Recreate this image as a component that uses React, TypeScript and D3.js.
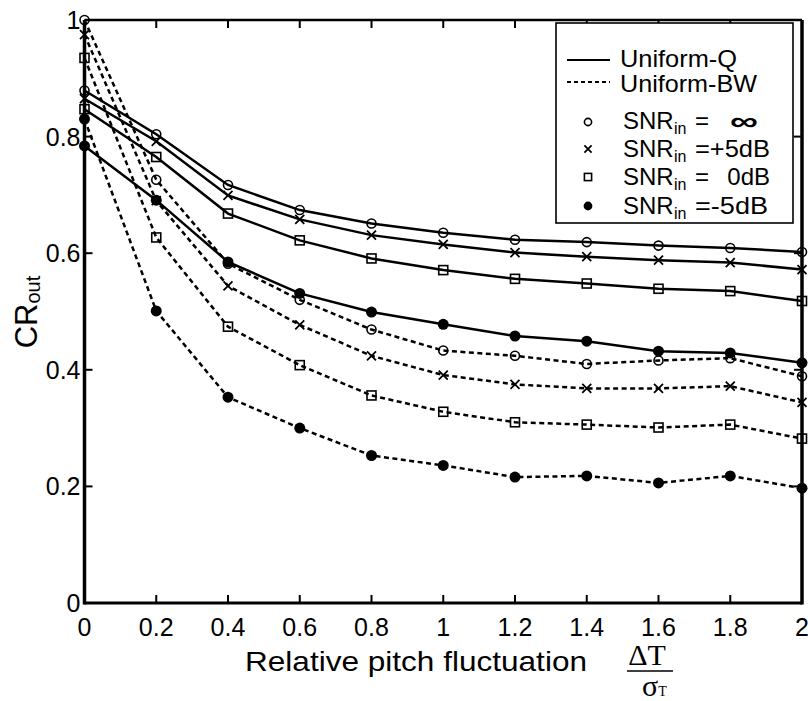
import React from "react";
import * as d3 from "d3";

const xValues = [0, 0.2, 0.4, 0.6, 0.8, 1.0, 1.2, 1.4, 1.6, 1.8, 2.0];
const xTicks = [0, 0.2, 0.4, 0.6, 0.8, 1, 1.2, 1.4, 1.6, 1.8, 2];
const yTicks = [0, 0.2, 0.4, 0.6, 0.8, 1];

const qInf = [0.879, 0.804, 0.717, 0.674, 0.651, 0.635, 0.623, 0.619, 0.613, 0.609, 0.602];
const q5 = [0.865, 0.792, 0.699, 0.658, 0.631, 0.615, 0.601, 0.594, 0.588, 0.584, 0.572];
const q0 = [0.847, 0.765, 0.668, 0.622, 0.591, 0.571, 0.556, 0.548, 0.539, 0.535, 0.518];
const qm5 = [0.784, 0.691, 0.585, 0.531, 0.499, 0.478, 0.458, 0.449, 0.432, 0.429, 0.412];
const bwInf = [1.0, 0.726, 0.582, 0.52, 0.469, 0.433, 0.424, 0.41, 0.416, 0.42, 0.389];
const bw5 = [0.975, 0.69, 0.544, 0.477, 0.424, 0.391, 0.375, 0.368, 0.368, 0.372, 0.344];
const bw0 = [0.935, 0.627, 0.474, 0.408, 0.356, 0.328, 0.31, 0.306, 0.301, 0.306, 0.282];
const bwm5 = [0.83, 0.501, 0.353, 0.3, 0.253, 0.236, 0.216, 0.218, 0.206, 0.218, 0.197];

const legendLines = ["Uniform-Q", "Uniform-BW"];
const legendSnr = ["∞", "=+5dB", "0dB", "=-5dB"];

type Marker = "circle" | "cross" | "square" | "dot";
const series: { values: number[]; marker: Marker; dashed: boolean }[] = [
  { values: qInf, marker: "circle", dashed: false },
  { values: q5, marker: "cross", dashed: false },
  { values: q0, marker: "square", dashed: false },
  { values: qm5, marker: "dot", dashed: false },
  { values: bwInf, marker: "circle", dashed: true },
  { values: bw5, marker: "cross", dashed: true },
  { values: bw0, marker: "square", dashed: true },
  { values: bwm5, marker: "dot", dashed: true },
];
const legendMarkers: Marker[] = ["circle", "cross", "square", "dot"];

const FONT = "'Liberation Sans', Arial, Helvetica, sans-serif";
const SERIF = "'Liberation Serif', 'Times New Roman', serif";

function MarkerShape({ type, cx, cy, k = 1 }: { type: Marker; cx: number; cy: number; k?: number }) {
  if (type === "circle")
    return <circle cx={cx} cy={cy} r={4.5 * k} fill="none" stroke="black" strokeWidth={1.6} />;
  if (type === "dot") return <circle cx={cx} cy={cy} r={5.5 * k} fill="black" />;
  if (type === "square")
    return (
      <rect
        x={cx - 4.5 * k}
        y={cy - 4.5 * k}
        width={9 * k}
        height={9 * k}
        fill="none"
        stroke="black"
        strokeWidth={1.6}
      />
    );
  const s = 4.5 * k;
  return (
    <path
      d={`M${cx - s},${cy - s}L${cx + s},${cy + s}M${cx - s},${cy + s}L${cx + s},${cy - s}`}
      stroke="black"
      strokeWidth={1.8}
    />
  );
}

export default function App() {
  const W = 808;
  const H = 701;
  const left = 84.5;
  const right = 802;
  const top = 20;
  const bottom = 603;
  const x = d3.scaleLinear().domain([0, 2]).range([left, right]);
  const y = d3.scaleLinear().domain([0, 1]).range([bottom, top]);
  const line = d3
    .line<number>()
    .x((_, i) => x(xValues[i]))
    .y((d) => y(d));

  const tickLen = 8;
  const legendRowY = [122, 149, 177, 206];
  const legendBase = [128.5, 156.5, 185, 213.5];

  return (
    <svg width={W} height={H} style={{ position: "absolute", left: 0, top: 0, background: "white" }}>
      <rect x={0} y={0} width={W} height={H} fill="white" />
      {/* data lines */}
      {series.map((s, i) => (
        <path
          key={"l" + i}
          d={line(s.values) || ""}
          fill="none"
          stroke="black"
          strokeWidth={2.5}
          strokeDasharray={s.dashed ? "5,3.5" : undefined}
        />
      ))}
      {/* axes box */}
      <line x1={left} y1={bottom} x2={right} y2={bottom} stroke="black" strokeWidth={3} />
      <line x1={left} y1={top} x2={left} y2={bottom + 1.5} stroke="black" strokeWidth={3.5} />
      <line x1={left} y1={top} x2={right} y2={top} stroke="black" strokeWidth={2.5} />
      <line x1={right} y1={top} x2={right} y2={bottom + 1.5} stroke="black" strokeWidth={3.5} />
      {/* ticks */}
      {xTicks.map((t) => (
        <g key={"xt" + t}>
          <line x1={x(t)} x2={x(t)} y1={bottom} y2={bottom - tickLen} stroke="black" strokeWidth={2} />
          <line x1={x(t)} x2={x(t)} y1={top} y2={top + tickLen} stroke="black" strokeWidth={2} />
          <text x={x(t)} y={636} textAnchor="middle" fontFamily={FONT} fontSize={25}>
            {String(t)}
          </text>
        </g>
      ))}
      {yTicks.map((t) => (
        <g key={"yt" + t}>
          <line x1={left} x2={left + tickLen} y1={y(t)} y2={y(t)} stroke="black" strokeWidth={2} />
          <line x1={right} x2={right - tickLen} y1={y(t)} y2={y(t)} stroke="black" strokeWidth={2} />
          <text x={left - 4} y={y(t) + 9} textAnchor="end" fontFamily={FONT} fontSize={25}>
            {String(t)}
          </text>
        </g>
      ))}
      {/* markers */}
      {series.map((s, i) => (
        <g key={"m" + i}>
          {s.values.map((v, j) => (
            <MarkerShape key={j} type={s.marker} cx={x(xValues[j])} cy={y(v)} />
          ))}
        </g>
      ))}
      {/* y label */}
      <text transform="translate(37,312) rotate(-90)" textAnchor="middle" fontFamily={FONT} fontSize={31}>
        CR<tspan fontSize={20} dy={3}>out</tspan>
      </text>
      {/* x label */}
      <text x={245} y={671} fontFamily={FONT} fontSize={28} textLength={342} lengthAdjust="spacingAndGlyphs">
        Relative pitch fluctuation
      </text>
      <text x={647} y={665} textAnchor="middle" fontFamily={SERIF} fontSize={30}>
        ΔT
      </text>
      <line x1={627} x2={673} y1={671} y2={671} stroke="black" strokeWidth={1.6} />
      <text x={642} y={696} fontFamily={SERIF} fontSize={30}>
        σ<tspan fontSize={14}>T</tspan>
      </text>
      {/* legend */}
      <rect x={556} y={23} width={237} height={200} fill="white" stroke="black" strokeWidth={1.6} />
      <line x1={567} x2={610} y1={60} y2={60} stroke="black" strokeWidth={2} />
      <text x={620} y={67} fontFamily={FONT} fontSize={24} textLength={117} lengthAdjust="spacingAndGlyphs">
        {legendLines[0]}
      </text>
      <line x1={567} x2={610} y1={82} y2={82} stroke="black" strokeWidth={2} strokeDasharray="4,3" />
      <text x={620} y={92} fontFamily={FONT} fontSize={24} textLength={137} lengthAdjust="spacingAndGlyphs">
        {legendLines[1]}
      </text>
      {legendMarkers.map((m, i) => (
        <g key={"lg" + i}>
          <MarkerShape type={m} cx={588} cy={legendRowY[i]} k={0.8} />
          <text x={623} y={legendBase[i]} fontFamily={FONT} fontSize={24}>
            SNR
          </text>
          <text x={674} y={legendBase[i] + 5} fontFamily={FONT} fontSize={16}>
            in
          </text>
          {i === 0 || i === 2 ? (
            <text x={695} y={legendBase[i]} fontFamily={FONT} fontSize={24}>
              =
            </text>
          ) : null}
          {i === 0 ? (
            <text
              x={744}
              y={legendBase[i] + 1}
              textAnchor="middle"
              fontFamily={FONT}
              fontSize={26}
              fontWeight="bold"
              textLength={28}
              lengthAdjust="spacingAndGlyphs"
            >
              {legendSnr[i]}
            </text>
          ) : i === 2 ? (
            <text x={770} y={legendBase[i]} textAnchor="end" fontFamily={FONT} fontSize={24}>
              {legendSnr[i]}
            </text>
          ) : (
            <text
              x={695}
              y={legendBase[i]}
              fontFamily={FONT}
              fontSize={24}
              textLength={i === 3 ? 73 : 75}
              lengthAdjust="spacingAndGlyphs"
            >
              {legendSnr[i]}
            </text>
          )}
        </g>
      ))}
    </svg>
  );
}
